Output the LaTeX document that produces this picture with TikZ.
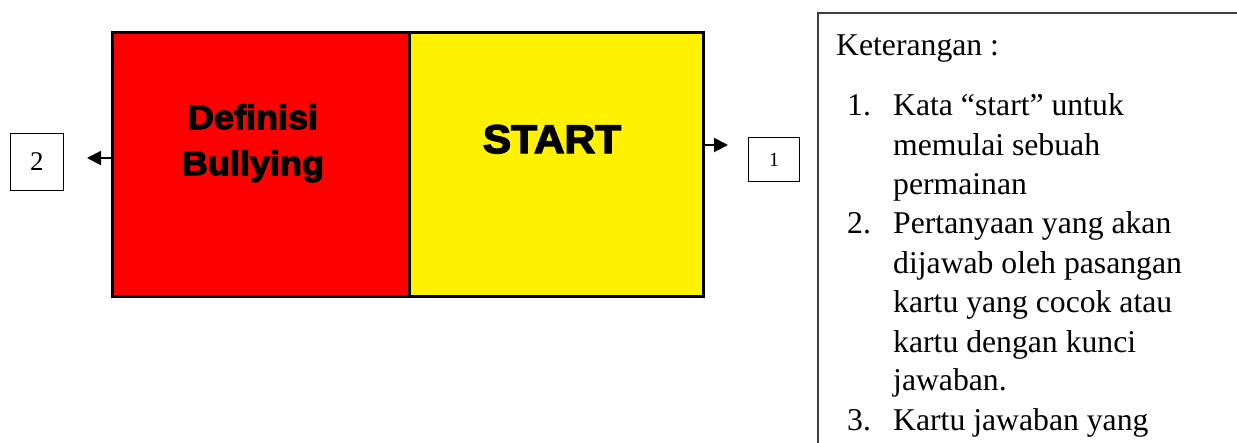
\documentclass[tikz,border=0pt]{standalone}
\usepackage{fontspec}
\setmainfont{Liberation Serif}
\newfontfamily\blackfont[FakeBold=3.5,FakeStretch=1.06]{Liberation Sans Bold}
\usetikzlibrary{arrows.meta}
\tikzset{
  card/.style={draw=black, line width=2.5pt, minimum width=#1, minimum height=264pt, anchor=north west, inner sep=0pt},
  numbox/.style={draw=black, line width=1pt, inner sep=0pt, anchor=north west},
  conn/.style={line width=2pt, -{Triangle[length=14pt 0,width=14pt 0]}},
  legend/.style={anchor=base west, inner sep=0pt, font=\fontsize{31.7}{38}\selectfont},
  bigtxt/.style={anchor=base, inner sep=0pt, font=\blackfont\fontsize{#1}{#1}\selectfont}
}
\begin{document}
\begin{tikzpicture}[x=1pt,y=-1pt]
\useasboundingbox (0,0) rectangle (1237,442);
% cards
\node[card=297pt, fill=red] (red) at (111,31) {};
\node[card=294pt, fill=yellow] (yellow) at (408,31) {};
\node[bigtxt=34] (def) at (253,129) {Definisi};
\node[bigtxt=34] (bul) at (253,175) {Bullying};
\node[bigtxt=40] (start) at (552,153) {START};
% number boxes
\node[numbox, minimum width=53pt, minimum height=57pt] (b2) at (10,133) {};
\node[font=\fontsize{27}{27}\selectfont, inner sep=0pt] (t2) at (b2.center) {2};
\node[numbox, minimum width=51pt, minimum height=44pt] (b1) at (748,137) {};
\node[font=\fontsize{20}{20}\selectfont, inner sep=0pt] (t1) at (b1.center) {1};
% arrows
\coordinate (a2) at (87,158);
\coordinate (a1s) at (702,145);
\coordinate (a1) at (728,145);
\draw[conn] (red.west |- a2) -- (a2);
\draw[conn] (a1s) -- (a1);
% legend box
\draw[line width=1.5pt, draw=black!75] (1240,13) -- (818,13) -- (818,445);
\node[legend] (ket) at (836,55) {Keterangan :};
\node[legend] (n1) at (847,115) {1.};
\node[legend] (l1) at (893,115) {Kata \textquotedblleft start\textquotedblright{} untuk};
\node[legend] (l2) at (893,155) {memulai sebuah};
\node[legend] (l3) at (893,194) {permainan};
\node[legend] (n2) at (847,233) {2.};
\node[legend] (l4) at (893,233) {Pertanyaan yang akan};
\node[legend] (l5) at (893,273) {dijawab oleh pasangan};
\node[legend] (l6) at (893,312) {kartu yang cocok atau};
\node[legend] (l7) at (893,352) {kartu dengan kunci};
\node[legend] (l8) at (893,390) {jawaban.};
\node[legend] (n3) at (847,430) {3.};
\node[legend] (l9) at (893,430) {Kartu jawaban yang};
\end{tikzpicture}
\end{document}
